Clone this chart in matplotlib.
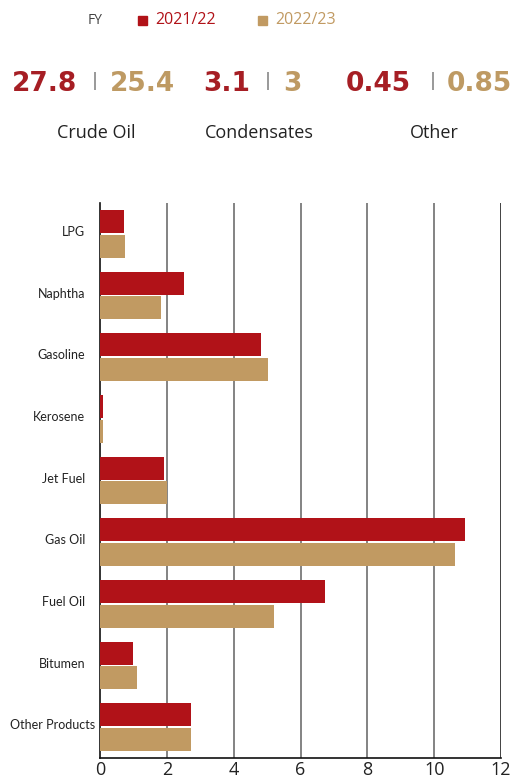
import matplotlib
matplotlib.use("Agg")
import matplotlib.pyplot as plt
import matplotlib.transforms as mtransforms
import numpy as np

categories = ["LPG", "Naphtha", "Gasoline", "Kerosene", "Jet Fuel", "Gas Oil",
              "Fuel Oil", "Bitumen", "Other Products"]
fy2122 = [0.72, 2.5, 4.82, 0.1, 1.92, 10.93, 6.74, 0.99, 2.72]
fy2223 = [0.75, 1.83, 5.03, 0.1, 2.0, 10.63, 5.21, 1.1, 2.72]
series_labels = ["2021/22", "2022/23"]
xticks = [0, 2, 4, 6, 8, 10, 12]

feed_names = ["Crude Oil", "Condensates", "Other"]
feed_2122 = ["27.8", "3.1", "0.45"]
feed_2223 = ["25.4", "3", "0.85"]

RED = "#B11218"
TAN = "#C19A62"
NUM_RED = "#A61E24"
NUM_TAN = "#BE9A63"

plt.rcParams['font.family'] = ['Lato', 'DejaVu Sans']

fig = plt.figure(figsize=(5.2, 7.83), dpi=100)
ax = fig.add_axes([100/520, 1-758/783, 401/520, 555/783])

y = np.arange(len(categories))
h = 0.37
ax.barh(y - h/2 - 0.015, fy2122, height=h, color=RED, zorder=3)
ax.barh(y + h/2 + 0.015, fy2223, height=h, color=TAN, zorder=3)
ax.set_ylim(len(categories) - 0.5, -0.5)
ax.set_xlim(0, 12)
ax.set_xticks(xticks)
ax.set_xticklabels([str(t) for t in xticks], fontsize=13, color="#222222",
                   family=['Open Sans', 'DejaVu Sans'])
ax.set_yticks(y)
ax.set_yticklabels([])
ax.tick_params(axis='both', length=0)
ax.tick_params(axis='x', pad=2)

# category labels: right-aligned ~15px left of the axis, the long last one closer
trans = mtransforms.blended_transform_factory(ax.transAxes, ax.transData)
for i, name in enumerate(categories):
    right_px = 95 if i == len(categories) - 1 else 85
    ax.text((right_px - 100) / 401, i - 0.03, name, transform=trans, ha="right",
            va="center", fontsize=9, color="#222222")

for t in xticks[1:-1]:
    ax.axvline(t, color="#7a7a7a", lw=1.3, zorder=1)
ax.axvline(12, color="#333333", lw=1.3, zorder=1)
for s in ["top", "right"]:
    ax.spines[s].set_visible(False)
ax.spines["left"].set_color("#111111")
ax.spines["bottom"].set_color("#111111")
ax.spines["left"].set_linewidth(1.2)
ax.spines["bottom"].set_linewidth(1.2)

def fx(px):
    return px / 520
def fy(py):
    return 1 - py / 783

hdr_font = ['Open Sans', 'DejaVu Sans']
fig.text(fx(88), fy(20), "FY", fontsize=10, color="#444444", va="center", family=hdr_font)
fig.patches.append(plt.Rectangle((fx(138), fy(25)), 9/520, 9/783, color=RED, transform=fig.transFigure))
fig.text(fx(155), fy(20), series_labels[0], fontsize=11.5, color=RED, va="center", family=hdr_font)
fig.patches.append(plt.Rectangle((fx(258), fy(25)), 9/520, 9/783, color=TAN, transform=fig.transFigure))
fig.text(fx(275), fy(20), series_labels[1], fontsize=11.5, color=TAN, va="center", family=hdr_font)

num_font = ['DejaVu Sans']
red_right = [77, 250, 411]
sep_x = [95, 268, 433]
tan_left = [110, 283, 447]
for i in range(3):
    fig.text(fx(red_right[i]), fy(84), feed_2122[i], fontsize=19, fontweight="bold",
             color=NUM_RED, ha="right", va="center", family=num_font)
    fig.text(fx(sep_x[i]), fy(81), "|", fontsize=13, color="#7a7a7a", ha="center",
             va="center", family=num_font)
    fig.text(fx(tan_left[i]), fy(84), feed_2223[i], fontsize=19, fontweight="bold",
             color=NUM_TAN, ha="left", va="center", family=num_font)

label_x = [96, 259, 434]
for i in range(3):
    fig.text(fx(label_x[i]), fy(133), feed_names[i], fontsize=13, color="#222222",
             ha="center", va="center", family=hdr_font)

fig.savefig("out.png", dpi=100)
